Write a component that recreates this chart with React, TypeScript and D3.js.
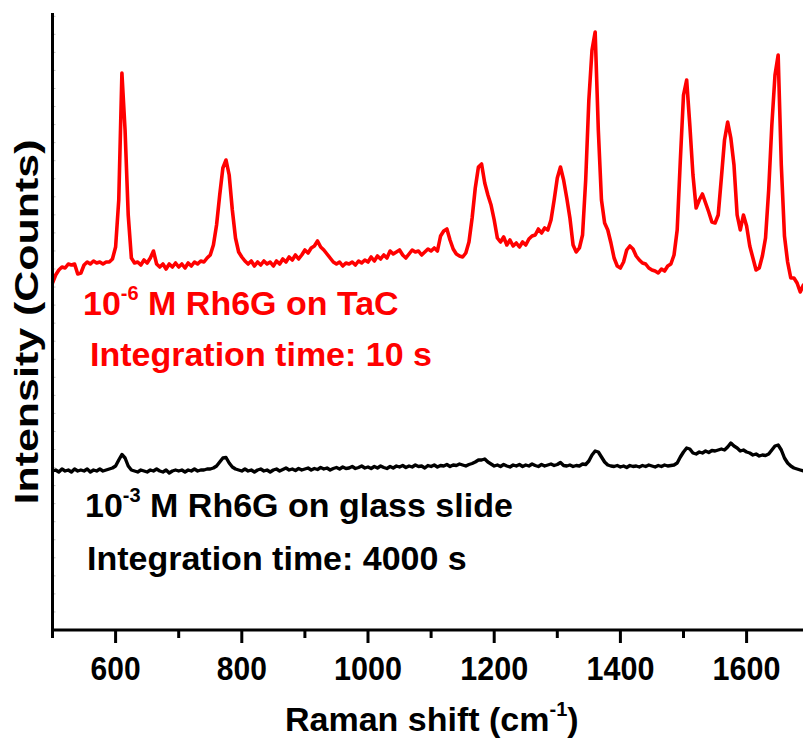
import React from 'react';
import * as d3 from 'd3';

// Raman spectra sampled every 5 cm-1 from 500 to 1700 cm-1 (arbitrary counts)
const WN_START = 500;
const WN_STEP = 5;

const redCounts = [
  // 500-595
  3470, 3550, 3600, 3630, 3620, 3660, 3650, 3660, 3560, 3570, 3650, 3680, 3660, 3690, 3670, 3680, 3660, 3680, 3680, 3710,
  // 600-695
  3830, 4300, 5570, 5000, 4150, 3720, 3670, 3680, 3650, 3700, 3670, 3720, 3790, 3660, 3630, 3660, 3610, 3660, 3630, 3670,
  // 700-795
  3630, 3660, 3620, 3670, 3640, 3680, 3660, 3690, 3680, 3720, 3750, 3850, 4050, 4350, 4620, 4700, 4550, 4200, 3920, 3780,
  // 800-895
  3730, 3690, 3660, 3690, 3640, 3680, 3650, 3690, 3660, 3680, 3640, 3690, 3660, 3710, 3680, 3730, 3700, 3750, 3710, 3750,
  // 900-995
  3800, 3770, 3820, 3840, 3890, 3830, 3800, 3760, 3720, 3680, 3660, 3680, 3640, 3670, 3660, 3680, 3650, 3690, 3670, 3700,
  // 1000-1095
  3680, 3730, 3690, 3740, 3710, 3750, 3720, 3790, 3760, 3780, 3800, 3750, 3720, 3760, 3800, 3780, 3790, 3750, 3780, 3810,
  // 1100-1195
  3790, 3820, 3790, 3940, 3990, 4010, 3900, 3810, 3760, 3740, 3730, 3770, 3880, 4120, 4420, 4630, 4660, 4470, 4350, 4250,
  // 1200-1295
  4100, 3920, 3880, 3930, 3850, 3900, 3840, 3870, 3830, 3880, 3850, 3910, 3940, 3950, 4010, 3970, 4020, 4000, 4100, 4300,
  // 1300-1395
  4520, 4630, 4500, 4320, 4120, 3850, 3780, 3820, 3950, 4500, 5300, 5800, 5980, 5000, 4300, 4070, 4000, 3870, 3720, 3640,
  // 1400-1495
  3620, 3680, 3800, 3840, 3810, 3740, 3700, 3670, 3660, 3620, 3600, 3590, 3570, 3610, 3590, 3640, 3660, 3750, 4000, 4700,
  // 1500-1595
  5350, 5500, 5050, 4550, 4220, 4300, 4360, 4270, 4180, 4080, 4070, 4150, 4520, 4900, 5080, 4920, 4650, 4150, 4000, 4150,
  // 1600-1700
  4040, 3840, 3720, 3600, 3620, 3740, 3920, 4400, 5050, 5550, 5750, 4650, 3940, 3680, 3520, 3520, 3470, 3380, 3450, 3420,
  3460,
];

const blackCounts = [
  // 500-595
  1590, 1600, 1580, 1610, 1590, 1600, 1580, 1610, 1590, 1600, 1590, 1610, 1580, 1600, 1590, 1610, 1590, 1600, 1610, 1620,
  // 600-695
  1640, 1700, 1755, 1720, 1640, 1600, 1590, 1580, 1600, 1590, 1580, 1600, 1590, 1610, 1590, 1580, 1600, 1570, 1590, 1600,
  // 700-795
  1590, 1600, 1580, 1600, 1590, 1610, 1590, 1600, 1600, 1610, 1610, 1620, 1640, 1680, 1720, 1725, 1670, 1630, 1610, 1600,
  // 800-895
  1590, 1610, 1590, 1600, 1580, 1600, 1610, 1590, 1600, 1580, 1600, 1610, 1590, 1605, 1620, 1600, 1610, 1595, 1615, 1600,
  // 900-995
  1610, 1620, 1600, 1615, 1605, 1625, 1610, 1620, 1600, 1615, 1625, 1610, 1630, 1615, 1620, 1635, 1615, 1625, 1640, 1620,
  // 1000-1095
  1630, 1615, 1635, 1620, 1640, 1625, 1615, 1635, 1620, 1640, 1630, 1645, 1625, 1640, 1630, 1650, 1635, 1640, 1620, 1645,
  // 1100-1195
  1635, 1650, 1630, 1645, 1640, 1655, 1635, 1650, 1645, 1660, 1650, 1640, 1655, 1665, 1680, 1700, 1700, 1710, 1680, 1660,
  // 1200-1295
  1640, 1650, 1635, 1655, 1640, 1630, 1650, 1640, 1655, 1635, 1650, 1640, 1660, 1645, 1635, 1655, 1640, 1650, 1660, 1645,
  // 1300-1395
  1655, 1675, 1645, 1640, 1650, 1635, 1645, 1640, 1660, 1655, 1690, 1750, 1790, 1780, 1730, 1680, 1650, 1640, 1635, 1645,
  // 1400-1495
  1630, 1640, 1625, 1645, 1635, 1640, 1630, 1645, 1635, 1650, 1640, 1630, 1645, 1635, 1650, 1640, 1645, 1650, 1670, 1730,
  // 1500-1595
  1780, 1820, 1810, 1770, 1760, 1780, 1770, 1790, 1775, 1795, 1790, 1800, 1810, 1800, 1830, 1870, 1840, 1820, 1790, 1800,
  // 1600-1700
  1780, 1770, 1750, 1760, 1740, 1750, 1745, 1760, 1800, 1840, 1850, 1800, 1720, 1670, 1640, 1620, 1610, 1600, 1590, 1600,
  1595,
];

const majorTicks = [600, 800, 1000, 1200, 1400, 1600];
const minorTicks = [500, 700, 900, 1100, 1300, 1500, 1700];

const FONT = "'Liberation Sans', Arial, Helvetica, sans-serif";

export default function App() {
  const W = 803;
  const H = 740;
  const x = d3.scaleLinear().domain([500, 1700]).range([52.5, 809.7]);
  const y = d3.scaleLinear().domain([0, 6180]).range([630, 12]);

  const toPts = (arr: number[]) => arr.map((c, i) => [WN_START + i * WN_STEP, c] as [number, number]);
  const line = d3
    .line<[number, number]>()
    .x((d) => x(d[0]))
    .y((d) => y(d[1]));

  const yFaint = d3.range(0, 6180, 180.5).slice(1);
  const x0 = x(500);
  const y0 = y(0);

  return (
    <svg
      width={W}
      height={H}
      style={{ position: 'absolute', left: 0, top: 0, background: '#fff' }}
      fontFamily={FONT}
      fontWeight="bold"
    >
      <rect x={0} y={0} width={W} height={H} fill="#fff" />
      {/* traces */}
      <path d={line(toPts(blackCounts)) || ''} fill="none" stroke="#000" strokeWidth={3.4} strokeLinejoin="round" />
      <path d={line(toPts(redCounts)) || ''} fill="none" stroke="#ff0000" strokeWidth={3.6} strokeLinejoin="round" />

      {/* faint y minor ticks */}
      {yFaint.map((v) => (
        <line key={v} x1={x0} x2={x0 + 3} y1={y(v)} y2={y(v)} stroke="#c0c0c0" strokeWidth={1} />
      ))}

      {/* axes */}
      <line x1={x0} x2={x0} y1={y(6180) + 1} y2={y0 + 1.5} stroke="#000" strokeWidth={3} />
      <line x1={x0 - 1.5} x2={W + 10} y1={y0} y2={y0} stroke="#000" strokeWidth={3} />
      {majorTicks.map((t) => (
        <g key={t}>
          <line x1={x(t)} x2={x(t)} y1={y0} y2={y0 + 13} stroke="#000" strokeWidth={3} />
          <text
            x={x(t)}
            y={680}
            textAnchor="middle"
            fontSize={33}
            fill="#000"
            textLength={String(t).length === 4 ? 68 : 50}
            lengthAdjust="spacingAndGlyphs"
          >
            {t}
          </text>
        </g>
      ))}
      {minorTicks.map((t) => (
        <line key={t} x1={x(t)} x2={x(t)} y1={y0} y2={y0 + 8} stroke="#000" strokeWidth={3} />
      ))}

      {/* axis titles */}
      <text x={285} y={731} fontSize={34} fill="#000">
        <tspan>Raman shift (cm</tspan>
        <tspan fontSize={20} dy={-15}>-1</tspan>
        <tspan dy={15}>)</tspan>
      </text>
      <text
        transform="translate(38,322) rotate(-90)"
        textAnchor="middle"
        fontSize={34}
        fill="#000"
        textLength={365}
        lengthAdjust="spacingAndGlyphs"
      >
        Intensity (Counts)
      </text>

      {/* annotations */}
      <text x={83} y={315} fontSize={34} fill="#ff0000">
        <tspan>10</tspan>
        <tspan fontSize={20} dy={-15}>-6</tspan>
        <tspan dy={15}> M Rh6G on TaC</tspan>
      </text>
      <text x={90} y={366} fontSize={34} fill="#ff0000">
        Integration time: 10 s
      </text>
      <text x={85} y={517} fontSize={34} fill="#000">
        <tspan>10</tspan>
        <tspan fontSize={20} dy={-15}>-3</tspan>
        <tspan dy={15}> M Rh6G on glass slide</tspan>
      </text>
      <text x={87} y={570} fontSize={34} fill="#000">
        Integration time: 4000 s
      </text>
    </svg>
  );
}
